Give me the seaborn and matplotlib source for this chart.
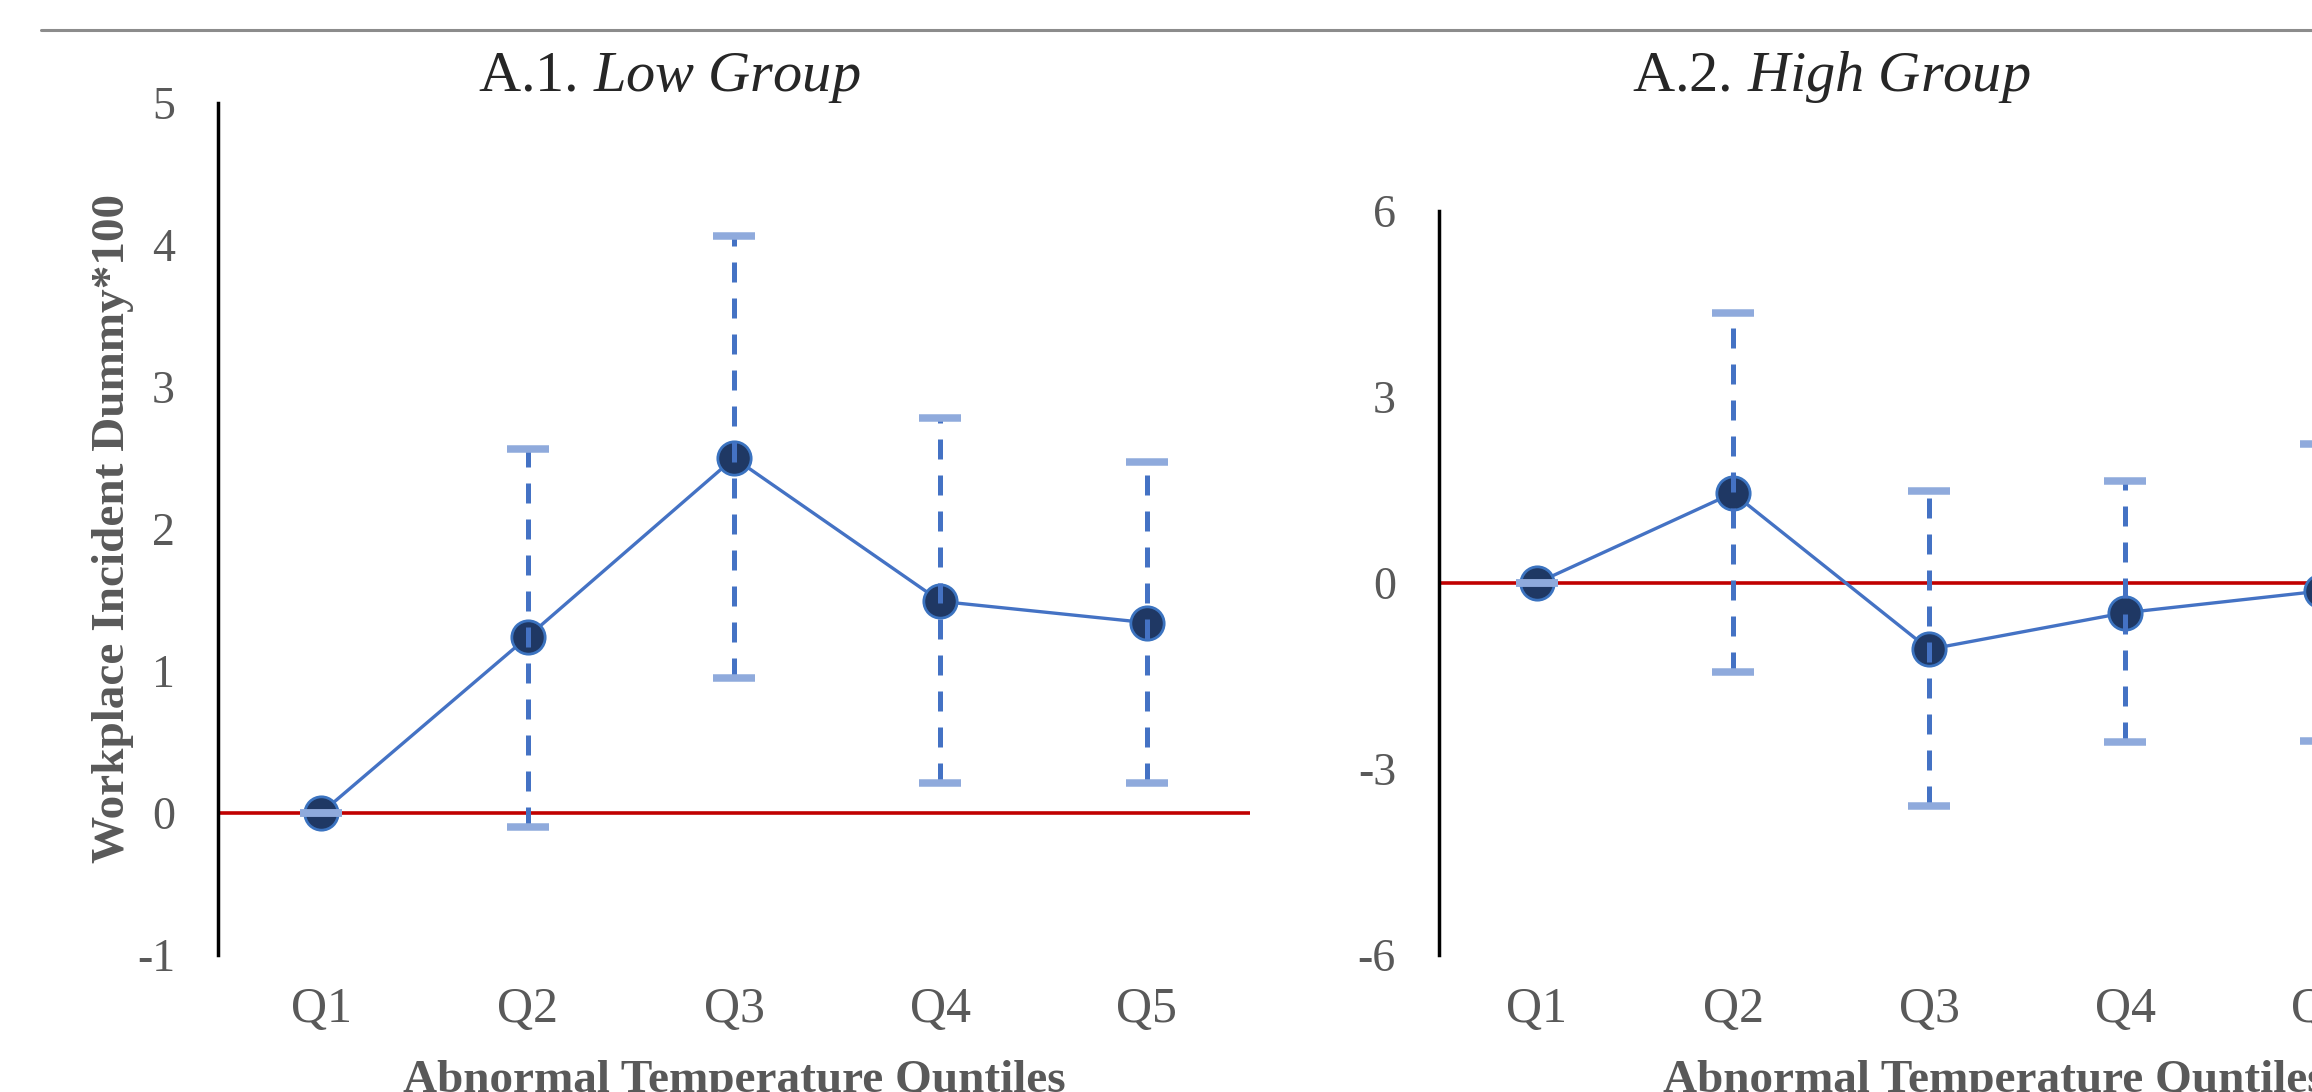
import matplotlib.pyplot as plt
import matplotlib.lines as mlines
import pandas as pd
import seaborn as sns

quintiles = ['Q1', 'Q2', 'Q3', 'Q4', 'Q5']

low_coef = [0.0, 1.24, 2.50, 1.49, 1.34]
low_upper = [0.0, 2.56, 4.06, 2.78, 2.47]
low_lower = [0.0, -0.10, 0.95, 0.21, 0.21]

high_coef = [0.0, 1.45, -1.07, -0.48, -0.13]
high_upper = [0.0, 4.36, 1.48, 1.64, 2.24]
high_lower = [0.0, -1.43, -3.60, -2.57, -2.55]

low_ticks = [-1, 0, 1, 2, 3, 4, 5]
high_ticks = [-6, -3, 0, 3, 6]

ylab = 'Workplace Incident Dummy*100'
xlab = 'Abnormal Temperature Quntiles'

sns.set_style('white')
plt.rcParams['font.family'] = ['Liberation Serif', 'DejaVu Serif']
plt.rcParams['mathtext.fontset'] = 'custom'
plt.rcParams['mathtext.rm'] = 'Liberation Serif'
plt.rcParams['mathtext.it'] = 'Liberation Serif:italic'

grey = '#595959'
blue = '#4472C4'
navy = '#1F3864'
cap_blue = '#8FAADC'
red = '#C00000'


def draw_panel(ax, coef, lower, upper, ticks, title, title_x, title_y):
    df = pd.DataFrame({'quintile': quintiles, 'coef': coef})
    ax.axhline(0, color=red, lw=2.6, zorder=1)
    sns.lineplot(data=df, x='quintile', y='coef', ax=ax, errorbar=None,
                 color=blue, lw=2.4, marker='o', markersize=24,
                 markerfacecolor=navy, markeredgecolor='#3B73C0',
                 markeredgewidth=2, zorder=2)
    yerr = [[c - l for c, l in zip(coef, lower)], [u - c for c, u in zip(coef, upper)]]
    eb = ax.errorbar(quintiles, coef, yerr=yerr, fmt='none', ecolor=blue,
                     elinewidth=3.6, capsize=0, zorder=3)
    eb[2][0].set_linestyle((0, (4, 3.2)))
    ax.plot(quintiles, lower, ls='none', marker='_', ms=30, mew=5.4, color=cap_blue, zorder=4)
    ax.plot(quintiles, upper, ls='none', marker='_', ms=30, mew=5.4, color=cap_blue, zorder=4)

    ax.set_xlim(-0.5, 4.5)
    ax.set_ylim(ticks[0], ticks[-1])
    ax.set_yticks(ticks)
    ax.set_yticklabels([str(t) for t in ticks])
    for s in ['top', 'right', 'bottom']:
        ax.spines[s].set_visible(False)
    ax.spines['left'].set_color('black')
    ax.spines['left'].set_linewidth(2.5)
    ax.tick_params(axis='y', length=0, labelsize=33, labelcolor=grey, pad=31)
    ax.tick_params(axis='x', length=0, labelsize=36, labelcolor=grey, pad=23)
    ax.set_title(title, fontsize=42, x=title_x, y=title_y, va='baseline', pad=0)


fig = plt.figure(figsize=(23.12, 10.92), dpi=100)
ax1 = fig.add_axes([0.0943, 0.1255, 0.4464, 0.7802])
ax2 = fig.add_axes([0.6224, 0.1255, 0.4239, 0.6813])

draw_panel(ax1, low_coef, low_lower, low_upper, low_ticks,
           r'A.1. $\mathit{Low\ Group}$', 0.437, 1.014)
draw_panel(ax2, high_coef, high_lower, high_upper, high_ticks,
           r'A.2. $\mathit{High\ Group}$', 0.400, 1.161)

ax1.set_ylabel(ylab, fontsize=34, fontweight='bold', color=grey, va='center')
ax1.yaxis.set_label_coords(-0.1017, 0.5)
ax1.set_xlabel(xlab, fontsize=34, fontweight='bold', color=grey)
ax1.xaxis.set_label_coords(0.5, -0.123)
ax2.set_ylabel('')
ax2.set_xlabel(xlab, fontsize=34, fontweight='bold', color=grey, ha='left')
ax2.xaxis.set_label_coords(0.2286, -0.141)

fig.add_artist(mlines.Line2D([41 / 2312, 1.0], [1 - 30 / 1092] * 2,
                             color='#8C8C8C', lw=2.2, transform=fig.transFigure))

fig.savefig('out.png', dpi=100)
